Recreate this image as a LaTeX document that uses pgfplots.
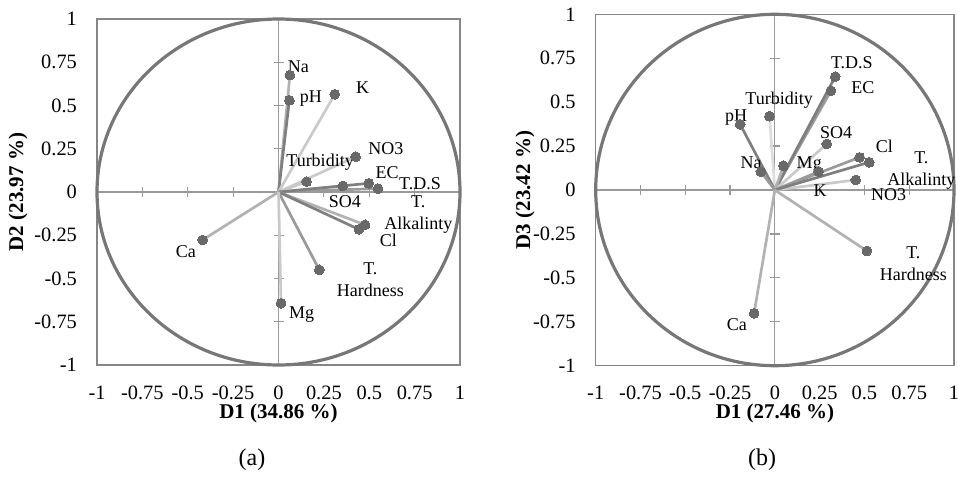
\documentclass[border=0pt]{standalone}
\usepackage{pgfplots}
\pgfplotsset{compat=1.18}
\usepackage{fontspec}
\setmainfont{Liberation Serif}
\definecolor{framec}{HTML}{868686}
\definecolor{zl}{HTML}{9A9A9A}
\definecolor{circ}{HTML}{777777}
\definecolor{dotc}{HTML}{696969}
\definecolor{g1}{HTML}{7F7F7F}
\definecolor{g2}{HTML}{9A9A9A}
\definecolor{g3}{HTML}{B2B2B2}
\definecolor{g4}{HTML}{CACACA}
\definecolor{g5}{HTML}{DDDDDD}
\newcommand{\vect}[3]{\addplot[draw=#1, line width=1.35pt, mark=*, mark indices={2}, mark size=2.45pt, mark options={fill=dotc, draw=dotc, line width=0pt}] coordinates {(0,0) (#2,#3)};}
\tikzset{lab/.style={font=\fontsize{9}{11}\selectfont, inner sep=0pt, align=center}}
\pgfplotsset{
  pcabase/.style={scale only axis, xmin=-1, xmax=1, ymin=-1, ymax=1,
    xtick={-1,-0.75,-0.5,-0.25,0,0.25,0.5,0.75,1},
    ytick={-1,-0.75,-0.5,-0.25,0,0.25,0.5,0.75,1}},
  pcamid/.style={pcabase, axis lines=middle, axis line style={-, draw=zl, line width=0.6pt},
    xticklabels={}, yticklabels={}, major tick length=5pt, tick align=center,
    tick style={draw=zl, line width=0.6pt}},
  pcaframe/.style={pcabase, axis line style={draw=framec, line width=0.6pt},
    tick style={draw=none}, major tick length=0pt,
    tick label style={font=\fontsize{10.2}{12}\selectfont},
    /pgf/number format/assume math mode=true,
    xticklabel style={yshift=-6.8pt}, yticklabel style={xshift=-6.5pt}, clip=false}
}
\begin{document}
\begin{tikzpicture}
\path[use as bounding box] (0,0) rectangle (479pt,238.5pt);
% ---------- panel (a) ----------
\begin{axis}[pcamid, at={(48.5pt,56pt)}, anchor=south west, width=181.5pt, height=173pt]
\end{axis}
\begin{axis}[pcaframe, at={(48.5pt,56pt)}, anchor=south west, width=181.5pt, height=173pt]
\draw[circ, line width=1.6pt] (axis cs:0,0) ellipse [x radius=1, y radius=1];
\vect{g3}{0.063}{0.676}   % Na
\vect{g1}{0.060}{0.530}   % pH
\vect{g4}{0.310}{0.565}   % K
\vect{g4}{0.425}{0.204}   % NO3
\vect{g4}{0.155}{0.060}   % Turbidity
\vect{g4}{0.354}{0.035}   % SO4
\vect{g2}{0.548}{0.020}   % T.D.S
\vect{g1}{0.497}{0.050}   % EC
\vect{g3}{0.477}{-0.190}  % T. Alkalinity
\vect{g1}{0.443}{-0.216}  % Cl
\vect{g3}{-0.418}{-0.277} % Ca
\vect{g2}{0.225}{-0.450}  % T. Hardness
\vect{g4}{0.014}{-0.643}  % Mg
\node[lab] at (axis cs:0.109,0.724) {Na};
\node[lab] at (axis cs:0.179,0.542) {pH};
\node[lab] at (axis cs:0.464,0.605) {K};
\node[lab] at (axis cs:0.591,0.253) {NO3};
\node[lab] at (axis cs:0.229,0.172) {Turbidity};
\node[lab] at (axis cs:0.599,0.114) {EC};
\node[lab] at (axis cs:0.780,0.046) {T.D.S};
\node[lab] at (axis cs:0.366,-0.056) {SO4};
\node[lab] at (axis cs:0.770,-0.128) {T.\\Alkalinty};
\node[lab] at (axis cs:0.605,-0.277) {Cl};
\node[lab] at (axis cs:-0.510,-0.344) {Ca};
\node[lab] at (axis cs:0.506,-0.507) {T.\\Hardness};
\node[lab] at (axis cs:0.128,-0.711) {Mg};
\end{axis}
% ---------- panel (b) ----------
\begin{axis}[pcamid, at={(297.85pt,55.65pt)}, anchor=south west, width=179.15pt, height=175.7pt]
\end{axis}
\begin{axis}[pcaframe, at={(297.85pt,55.65pt)}, anchor=south west, width=179.15pt, height=175.7pt]
\draw[circ, line width=1.6pt] (axis cs:0,0) ellipse [x radius=1, y radius=1];
\vect{g5}{-0.030}{0.420}  % Turbidity
\vect{g1}{-0.194}{0.374}  % pH
\vect{g2}{0.313}{0.565}   % EC
\vect{g1}{0.337}{0.645}   % T.D.S
\vect{g4}{0.290}{0.262}   % SO4
\vect{g2}{-0.078}{0.104}  % Na
\vect{g3}{0.048}{0.138}   % Mg
\vect{g4}{0.452}{0.057}   % NO3
\vect{g2}{0.244}{0.104}   % K
\vect{g2}{0.473}{0.186}   % Cl
\vect{g1}{0.527}{0.158}   % T. Alkalinity
\vect{g3}{0.514}{-0.347}  % T. Hardness
\vect{g3}{-0.116}{-0.702} % Ca
\node[lab] at (axis cs:0.430,0.727) {T.D.S};
\node[lab] at (axis cs:0.492,0.585) {EC};
\node[lab] at (axis cs:0.024,0.512) {Turbidity};
\node[lab] at (axis cs:-0.216,0.414) {pH};
\node[lab] at (axis cs:0.342,0.328) {SO4};
\node[lab] at (axis cs:0.612,0.246) {Cl};
\node[lab] at (axis cs:0.818,0.109) {T.\\Alkalinty};
\node[lab] at (axis cs:-0.132,0.158) {Na};
\node[lab] at (axis cs:0.192,0.146) {Mg};
\node[lab] at (axis cs:0.253,-0.006) {K};
\node[lab] at (axis cs:0.635,-0.028) {NO3};
\node[lab] at (axis cs:0.773,-0.418) {T.\\Hardness};
\node[lab] at (axis cs:-0.212,-0.768) {Ca};
\end{axis}
% ---------- titles ----------
\node[font=\bfseries\fontsize{10.5}{12}\selectfont, rotate=90] at (9pt,142.5pt) {D2 (23.97 \%)};
\node[font=\bfseries\fontsize{10.5}{12}\selectfont] at (139.25pt,31.8pt) {D1 (34.86 \%)};
\node[font=\bfseries\fontsize{10.5}{12}\selectfont, rotate=90] at (262.5pt,143.5pt) {D3 (23.42 \%)};
\node[font=\bfseries\fontsize{10.5}{12}\selectfont] at (387.5pt,31.8pt) {D1 (27.46 \%)};
\node[font=\fontsize{12}{14}\selectfont] at (126pt,8.5pt) {(a)};
\node[font=\fontsize{12}{14}\selectfont] at (381pt,8.5pt) {(b)};
\end{tikzpicture}
\end{document}
